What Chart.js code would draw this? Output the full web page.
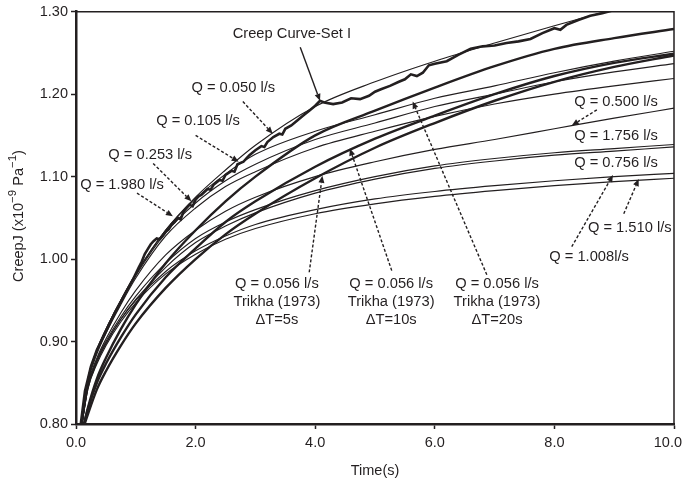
<!DOCTYPE html>
<html><head><meta charset="utf-8">
<script src="https://cdn.jsdelivr.net/npm/chart.js@4/dist/chart.umd.min.js"></script>
<style>html,body{margin:0;padding:0;background:#fff}#wrap{width:683px;height:482px}</style>
</head><body><div id="wrap"><canvas id="c" width="683" height="482"></canvas></div>
<script>
// ---- data ----
const T = [0.1, 0.2, 0.35, 0.5, 0.75, 1, 1.5, 2, 2.5, 3, 4, 5, 6, 7, 8, 9, 10];
const q0050 = [0.800,0.855,0.890,0.915,0.950,0.982,1.035,1.075,1.108,1.138,1.185,1.215,1.240,1.262,1.283,1.303,1.322];
const q0105 = [0.800,0.855,0.890,0.915,0.950,0.982,1.035,1.073,1.103,1.127,1.155,1.175,1.195,1.210,1.226,1.240,1.252];
const q0253 = [0.800,0.852,0.888,0.913,0.948,0.980,1.032,1.068,1.095,1.115,1.145,1.165,1.185,1.200,1.215,1.227,1.237];
const q1980 = [0.800,0.850,0.885,0.910,0.945,0.977,1.028,1.062,1.088,1.106,1.135,1.155,1.173,1.188,1.200,1.210,1.219];
const q0500 = [0.800,0.848,0.880,0.903,0.935,0.962,1.005,1.035,1.058,1.075,1.100,1.118,1.133,1.145,1.158,1.171,1.183];
const q1756 = [0.800,0.846,0.878,0.900,0.930,0.955,0.995,1.025,1.045,1.060,1.083,1.100,1.113,1.122,1.129,1.134,1.139];
const q0756 = [0.800,0.843,0.875,0.897,0.927,0.951,0.990,1.020,1.040,1.056,1.080,1.097,1.110,1.119,1.126,1.131,1.136];
const q1008 = [0.800,0.845,0.876,0.898,0.927,0.950,0.985,1.010,1.028,1.042,1.060,1.073,1.082,1.089,1.095,1.100,1.104];
const q1510 = [0.800,0.843,0.873,0.895,0.924,0.947,0.982,1.006,1.024,1.037,1.055,1.067,1.076,1.083,1.089,1.094,1.098];
const trikha5  = [0.790,0.812,0.842,0.864,0.895,0.922,0.965,1.000,1.030,1.055,1.098,1.135,1.165,1.192,1.215,1.233,1.247];
const trikha10 = [0.790,0.818,0.850,0.873,0.905,0.933,0.978,1.013,1.045,1.070,1.112,1.146,1.174,1.200,1.222,1.238,1.249];
const trikha20 = [0.790,0.820,0.855,0.880,0.915,0.945,0.995,1.035,1.070,1.100,1.150,1.180,1.208,1.234,1.255,1.268,1.279];
const creepT = [0.08,0.15,0.25,0.35,0.5,0.65,0.8,0.95,1.05,1.1,1.15,1.2,1.25,1.3,1.35,1.4,1.45,1.5,1.55,1.6,1.65,1.7,1.75,1.8,1.85,1.9,1.95,2.0,2.05,2.1,2.2,2.25,2.3,2.4,2.45,2.5,2.6,2.65,2.7,2.8,2.85,2.9,3.0,3.1,3.15,3.2,3.3,3.4,3.45,3.5,3.6,3.7,3.8,3.9,4.0,4.08,4.15,4.3,4.45,4.6,4.75,4.9,5.0,5.1,5.25,5.4,5.5,5.6,5.7,5.8,5.9,6.0,6.2,6.4,6.6,6.8,7.0,7.2,7.4,7.6,7.8,8.0,8.1,8.2,8.4,8.6,8.8,9.0];
const creepJ = [0.800,0.840,0.870,0.890,0.912,0.935,0.955,0.975,0.990,0.997,1.006,1.012,1.018,1.022,1.025,1.024,1.028,1.033,1.036,1.042,1.045,1.050,1.048,1.058,1.062,1.066,1.064,1.072,1.076,1.078,1.085,1.084,1.090,1.096,1.095,1.102,1.107,1.106,1.115,1.118,1.122,1.126,1.132,1.137,1.136,1.142,1.148,1.152,1.151,1.158,1.162,1.168,1.174,1.180,1.186,1.192,1.190,1.188,1.190,1.195,1.194,1.198,1.203,1.206,1.210,1.215,1.218,1.224,1.222,1.226,1.235,1.237,1.240,1.248,1.255,1.258,1.259,1.262,1.264,1.267,1.274,1.280,1.278,1.284,1.290,1.295,1.298,1.302];
const xTicks = ['0.0','2.0','4.0','6.0','8.0','10.0'];
const yTicks = ['0.80','0.90','1.00','1.10','1.20','1.30'];

// ---- annotations (data coordinates) ----
const notes = [
  {text:['Creep Curve-Set I'], at:[3.61,1.273], from:[3.75,1.257], to:[4.08,1.192], dash:false},
  {text:['Q = 0.050 l/s'], at:[2.63,1.207], from:[2.79,1.191], to:[3.29,1.152], dash:true},
  {text:['Q = 0.105 l/s'], at:[2.04,1.167], from:[2.0,1.150], to:[2.72,1.118], dash:true},
  {text:['Q = 0.253 l/s'], at:[1.24,1.126], from:[1.29,1.116], to:[1.93,1.070], dash:true},
  {text:['Q = 1.980 l/s'], at:[0.77,1.090], from:[1.02,1.080], to:[1.62,1.052], dash:true},
  {text:['Q = 0.500 l/s'], at:[9.03,1.191], from:[8.71,1.181], to:[8.29,1.162], dash:true},
  {text:['Q = 1.756 l/s'], at:[9.03,1.149], from:null, to:null, dash:true},
  {text:['Q = 0.756 l/s'], at:[9.03,1.117], from:null, to:null, dash:true},
  {text:['Q = 1.510 l/s'], at:[9.26,1.038], from:[9.16,1.055], to:[9.41,1.097], dash:true},
  {text:['Q = 1.008l/s'], at:[8.58,1.003], from:[8.29,1.015], to:[8.98,1.102], dash:true},
  {text:['Q = 0.056 l/s','Trikha (1973)','\u0394T=5s'], at:[3.36,0.970], from:[3.90,0.984], to:[4.12,1.101], dash:true},
  {text:['Q = 0.056 l/s','Trikha (1973)','\u0394T=10s'], at:[5.27,0.970], from:[5.28,0.986], to:[4.58,1.134], dash:true},
  {text:['Q = 0.056 l/s','Trikha (1973)','\u0394T=20s'], at:[7.04,0.970], from:[6.87,0.981], to:[5.63,1.191], dash:true}
];

const FONT = '"Liberation Sans", Arial, sans-serif';
const INK = '#231f20';
function series(xs, ys){ return xs.map((x,i)=>({x:x, y:ys[i]})); }
function smooth(ys, w){ return {data:series(T, ys), borderColor:INK, borderWidth:w, pointRadius:0, cubicInterpolationMode:'monotone', fill:false, clip:0}; }

const datasets = [
  smooth(q0050,1.15), smooth(q0105,1.15), smooth(q0253,1.15), smooth(q1980,1.15),
  smooth(q0500,1.15), smooth(q1756,1.15), smooth(q0756,1.15), smooth(q1008,1.15), smooth(q1510,1.15),
  smooth(trikha5,2.4), smooth(trikha10,2.4), smooth(trikha20,2.4),
  {data:series(creepT, creepJ), borderColor:INK, borderWidth:2.6, pointRadius:0, tension:0, fill:false, clip:0}
];

const notePlugin = {
  id:'notes',
  afterDatasetsDraw(chart){
    const {ctx, chartArea:a, scales:{x, y}} = chart;
    ctx.save();
    // frame (top + right)
    ctx.strokeStyle = INK; ctx.lineWidth = 1.5;
    ctx.beginPath(); ctx.moveTo(a.left, a.top); ctx.lineTo(a.right, a.top); ctx.lineTo(a.right, a.bottom); ctx.stroke();
    ctx.fillStyle = INK;
    ctx.font = '14.7px ' + FONT; ctx.textAlign = 'center'; ctx.textBaseline = 'middle';
    for (const n of notes){
      const px = x.getPixelForValue(n.at[0]), py = y.getPixelForValue(n.at[1]);
      n.text.forEach((s,i)=>{ ctx.fillStyle = INK; ctx.fillText(s, px, py + i*18); });
      if (n.from && n.to){
        const x0 = x.getPixelForValue(n.from[0]), y0 = y.getPixelForValue(n.from[1]);
        const x1 = x.getPixelForValue(n.to[0]), y1 = y.getPixelForValue(n.to[1]);
        const ang = Math.atan2(y1-y0, x1-x0), L = 7, Wd = 3;
        const bx = x1 - L*Math.cos(ang), by = y1 - L*Math.sin(ang);
        ctx.lineWidth = 1.4; ctx.strokeStyle = INK;
        ctx.setLineDash(n.dash ? [3,2] : []);
        ctx.beginPath(); ctx.moveTo(x0,y0); ctx.lineTo(bx,by); ctx.stroke();
        ctx.setLineDash([]);
        ctx.beginPath();
        ctx.moveTo(x1,y1);
        ctx.lineTo(bx + Wd*Math.sin(ang), by - Wd*Math.cos(ang));
        ctx.lineTo(bx - Wd*Math.sin(ang), by + Wd*Math.cos(ang));
        ctx.closePath(); ctx.fill();
      }
    }
    // x tick labels (kept inside the canvas at the right end)
    ctx.font = '14.5px ' + FONT; ctx.textAlign = 'center'; ctx.textBaseline = 'middle';
    x.ticks.forEach((t,i)=>{
      const s = xTicks[i]; if (s === undefined) return;
      const w = ctx.measureText(s).width;
      const cx = Math.min(x.getPixelForValue(t.value), chart.width - 1 - w/2);
      ctx.fillText(s, cx, 443);
    });
    // axis titles
    ctx.font = '14.5px ' + FONT;
    ctx.fillText('Time(s)', (a.left+a.right)/2, 471);
    ctx.translate(19, 216); ctx.rotate(-Math.PI/2);
    const parts = [['CreepJ (x10',0,14.5],['\u22129',-6,11.5],[' Pa',0,14.5],['\u22121',-6,11.5],[')',0,14.5]];
    let total = 0;
    parts.forEach(p=>{ ctx.font = p[2]+'px '+FONT; total += ctx.measureText(p[0]).width; });
    let cx = -total/2; ctx.textAlign = 'left';
    parts.forEach(p=>{ ctx.font = p[2]+'px '+FONT; ctx.fillText(p[0], cx, p[1]); cx += ctx.measureText(p[0]).width; });
    ctx.restore();
  }
};

new Chart(document.getElementById('c'), {
  type:'line',
  data:{datasets},
  options:{
    responsive:false, animation:false, events:[],
    layout:{padding:{top:10, right:9, left:0, bottom:0}},
    plugins:{legend:{display:false}, tooltip:{enabled:false}},
    scales:{
      x:{type:'linear', min:0, max:10,
         ticks:{stepSize:2, display:false},
         grid:{drawOnChartArea:false, drawTicks:true, tickLength:5, color:INK, tickWidth:1.5},
         border:{display:true, color:INK, width:2.5},
         afterFit(s){ s.height = 58; s.paddingLeft = 0; s.paddingRight = 0; }},
      y:{type:'linear', min:0.8, max:1.3,
         ticks:{stepSize:0.1, color:INK, font:{family:FONT, size:14.5}, padding:3,
                callback:(v)=>yTicks[Math.round((v-0.8)*10)]},
         grid:{drawOnChartArea:false, drawTicks:true, tickLength:5, color:INK, tickWidth:1.5},
         border:{display:true, color:INK, width:2.5},
         afterFit(s){ s.width = 76; }}
    }
  },
  plugins:[notePlugin]
});
</script></body></html>
